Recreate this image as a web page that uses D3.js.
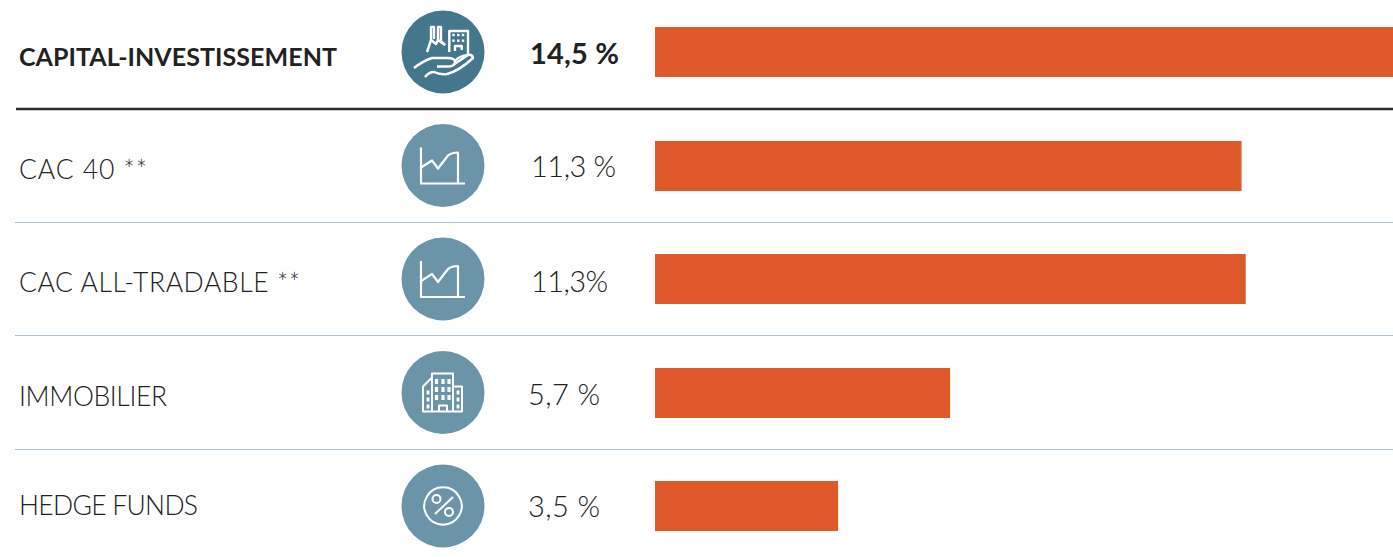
<!DOCTYPE html>
<html>
<head>
<meta charset="utf-8">
<script src="https://cdn.jsdelivr.net/npm/d3@7"></script>
<style>
  html, body { margin: 0; padding: 0; background: #fff; overflow: hidden; }
  text { font-family: Lato, "Open Sans", sans-serif; fill: #222; }
</style>
</head>
<body>
<div id="chart-area"></div>
<script>
// data
const categories = ["CAPITAL-INVESTISSEMENT", "CAC 40 **", "CAC ALL-TRADABLE **", "IMMOBILIER", "HEDGE FUNDS"]
const values = [14.5, 11.31, 11.39, 5.69, 3.53]
const valueLabels = ["14,5 %", "11,3 %", "11,3%", "5,7 %", "3,5 %"]
const icons = ["hand", "chart", "chart", "building", "percent"]

const WIDTH = 1393, HEIGHT = 557
const BAR_LEFT = 655, BAR_H = 50
// the labels in the original are not set on a regular baseline
const LABEL_DY = [14, 13.5, 13, 13.5, 9]
const LABEL_W = [318, 128, 281, 148, 179]
const VALUE_DY = [12, 11.5, 13, 12.5, 11]
const VALUE_X = [530, 531, 531, 528, 528]
const VALUE_W = [89, 85, 77, 72, 72]

let svg = d3.select("#chart-area").append("svg")
    .attr("width", WIDTH)
    .attr("height", HEIGHT)
    .style("display", "block")

let x = d3.scaleLinear().domain([0, 14.5]).range([0, 752])
let y = d3.scalePoint().domain(categories).range([52, 506])

// separators sit half way between the rows
categories.slice(0, -1).forEach((c, i) => {
    let mid = (y(c) + y(categories[i + 1])) / 2
    let yy = i == 0 ? 109 : Math.floor(mid) + 0.5
    svg.append("line")
        .attr("x1", i == 0 ? 16 : 15).attr("x2", WIDTH)
        .attr("y1", yy).attr("y2", yy)
        .attr("stroke", i == 0 ? "#2b2b2b" : "#a9c1cf")
        .attr("stroke-width", i == 0 ? 2.6 : 1.2)
})

let rows = svg.selectAll("g.row")
    .data(categories)
    .enter().append("g")
    .attr("class", "row")
    .attr("transform", d => `translate(0, ${y(d)})`)

rows.append("text")
    .attr("x", 19)
    .attr("y", (d, i) => LABEL_DY[i])
    .attr("font-size", (d, i) => i == 0 ? 25 : 26.5)
    .attr("font-weight", (d, i) => i == 0 ? 700 : 300)
    .attr("textLength", (d, i) => LABEL_W[i])
    .attr("lengthAdjust", "spacing")
    .text(d => d)

rows.append("circle")
    .attr("cx", 443)
    .attr("r", 41.5)
    .attr("fill", (d, i) => i == 0 ? "#44768c" : "#6c94a8")

rows.append("text")
    .attr("x", (d, i) => VALUE_X[i])
    .attr("y", (d, i) => VALUE_DY[i])
    .attr("font-size", 29)
    .attr("font-weight", (d, i) => i == 0 ? 700 : 300)
    .attr("textLength", (d, i) => VALUE_W[i])
    .attr("lengthAdjust", "spacing")
    .text((d, i) => valueLabels[i])

rows.append("rect")
    .attr("x", BAR_LEFT)
    .attr("y", d => Math.ceil(y(d)) - y(d) - BAR_H / 2)
    .attr("width", (d, i) => x(values[i]))
    .attr("height", BAR_H)
    .attr("fill", "#e0592a")

// pictograms, local coordinates around the circle centre
function drawIcon(g, name) {
    let p = g.append("g")
        .attr("transform", "translate(443, 0)")
        .attr("fill", "none")
        .attr("stroke", "#fff")
        .attr("stroke-width", 2)
        .attr("stroke-linejoin", "round")
    let path = d => p.append("path").attr("d", d)
    if (name == "chart") {
        p.attr("stroke-width", 2.2)
        path("M-22,-18V18H22")
        path("M-22,2L-11,-5L-5,3L5,-10Q9,-13 15,-13V18")
    }
    if (name == "percent") {
        path("M0,-18.7A18.7,18.7 0 1 0 0.01,-18.7")
        path("M-8,8L10,-9")
        p.append("circle").attr("cx", -6.5).attr("cy", -7).attr("r", 4)
        p.append("circle").attr("cx", 6).attr("cy", 6).attr("r", 4)
    }
    if (name == "building") {
        path("M-11,19V-19H10V19")
        path("M-11,-15L-20,-6V19H19V-6H10")
        path("M-4,19V13H4V19")
        let wins = p.append("g").attr("fill", "#fff").attr("stroke", "none")
        ;[-6.5, 0, 6].forEach(cx => [-11, -3, 5].forEach(cy => {
            wins.append("rect").attr("x", cx - 1.6).attr("y", cy - 2.5).attr("width", 3.2).attr("height", 5)
        }))
        ;[-15, 15].forEach(cx => [0, 7, 14].forEach(cy => {
            wins.append("rect").attr("x", cx - 1.4).attr("y", cy - 2).attr("width", 2.8).attr("height", 4)
        }))
    }
    if (name == "hand") {
        p.attr("stroke-width", 2.4)
        path("M-29,16Q-20,9 -11,6H4Q12,6 12,10Q12,14 6,14.5H-6")
        path("M-18,25Q-14,20 -9,20Q-3,23 4,22Q16,19 30,6Q29,2 25,3L10,13")
        path("M12,9Q16,4 25,3")
        // two chimneys, straight sided
        path("M-16,0L-12,-12V-25H-9V-13")
        path("M-5,-12V-25H-2V-11L2,-7")
        path("M-12,-12L-7,-8L-5,-12L2,-7")
        path("M6.3,0V-21H25V3")
        path("M12,-1V-6H18.7V-2")
        let wins = p.append("g").attr("fill", "#fff").attr("stroke", "none")
        ;[10.5, 15.3, 20].forEach(cx => [-17, -11.3].forEach(cy => {
            wins.append("rect").attr("x", cx - 1.2).attr("y", cy - 1.2).attr("width", 2.4).attr("height", 2.4)
        }))
    }
}
rows.each(function (d, i) { drawIcon(d3.select(this), icons[i]) })
</script>
</body>
</html>
